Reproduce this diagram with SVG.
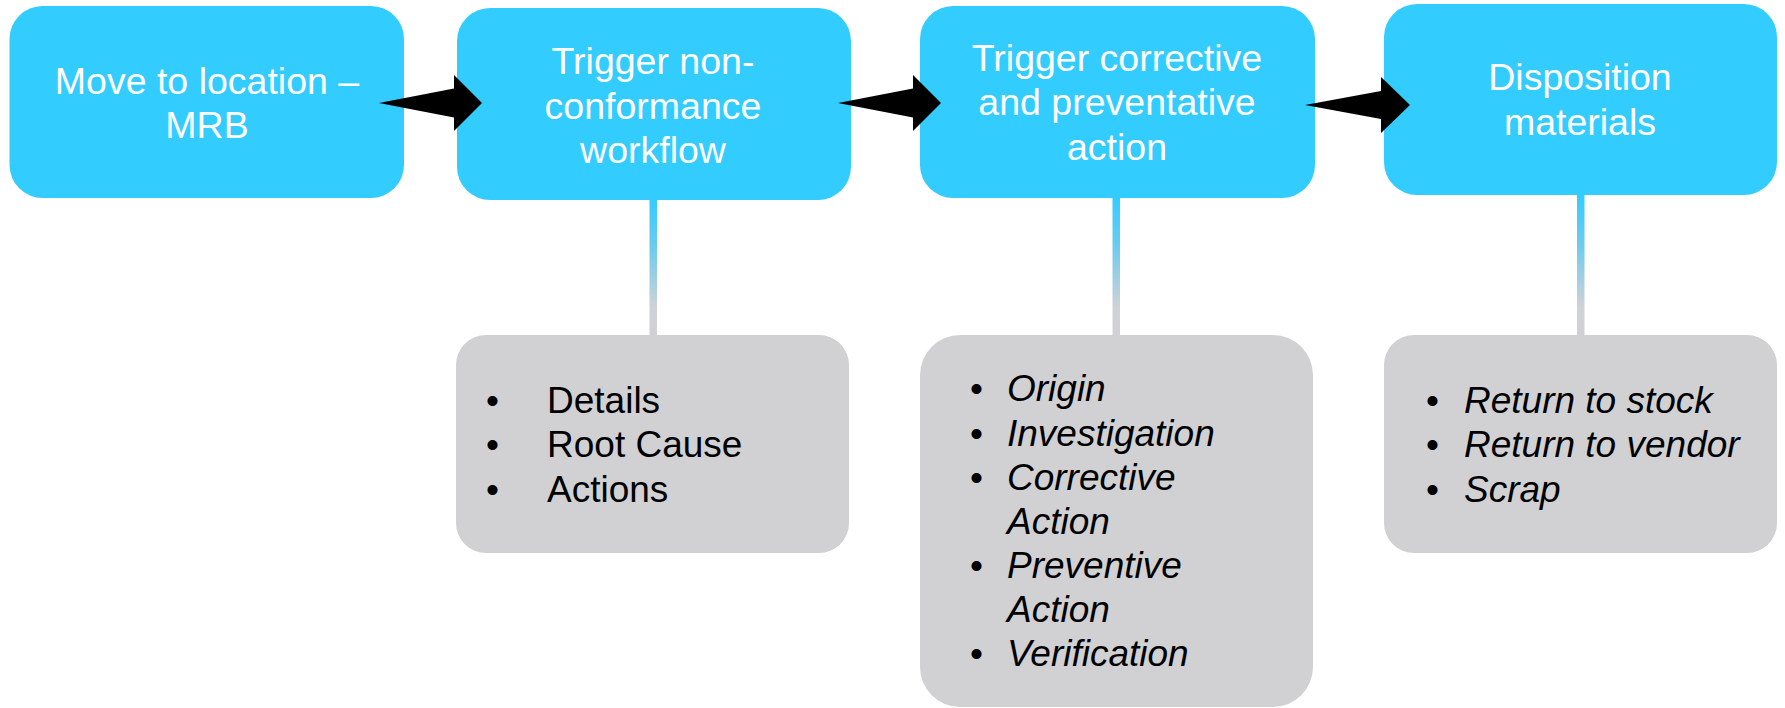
<svg xmlns="http://www.w3.org/2000/svg" width="1785" height="708" viewBox="0 0 1785 708">
<defs>
<linearGradient id="lg" x1="0" y1="0" x2="0" y2="1">
<stop offset="0" stop-color="#33CCFF"/>
<stop offset="0.35" stop-color="#6DCBEE"/>
<stop offset="0.8" stop-color="#CFD2D6"/>
<stop offset="1" stop-color="#D1D1D3"/>
</linearGradient>
<style>
.b{fill:#33CCFF}
.g{fill:#D1D1D3}
.bt{font-family:"Liberation Sans",Arial,sans-serif;font-size:37.5px;fill:#FFFFFF;text-anchor:middle}
.gt{font-family:"Liberation Sans",Arial,sans-serif;font-size:37px;fill:#000000}
.it{font-style:italic}
.arr{fill:#000000}
.ln{fill:url(#lg)}
</style>
</defs>
<rect width="1785" height="708" fill="#FFFFFF"/>
<g id="n1">
<rect class="b" x="9.5" y="6" width="394.5" height="192" rx="33" ry="33"/>
<text class="bt" x="207" y="94">Move to location –</text>
<text class="bt" x="207" y="138">MRB</text>
</g>
<g id="n2">
<rect class="b" x="457" y="8" width="394" height="192" rx="33" ry="33"/>
<text class="bt" x="653" y="74">Trigger non-</text>
<text class="bt" x="653" y="119">conformance</text>
<text class="bt" x="653" y="163">workflow</text>
</g>
<g id="n3">
<rect class="b" x="920" y="6" width="395" height="192" rx="33" ry="33"/>
<text class="bt" x="1117" y="71">Trigger corrective</text>
<text class="bt" x="1117" y="115">and preventative</text>
<text class="bt" x="1117" y="160">action</text>
</g>
<g id="n4">
<rect class="b" x="1384" y="4" width="393" height="191" rx="33" ry="33"/>
<text class="bt" x="1580" y="90">Disposition</text>
<text class="bt" x="1580" y="135">materials</text>
</g>
<g id="d1">
<rect class="g" x="456" y="335" width="393" height="218" rx="30" ry="30"/>
<text class="gt" x="486" y="413">•</text>
<text class="gt" x="547" y="413">Details</text>
<text class="gt" x="486" y="457">•</text>
<text class="gt" x="547" y="457">Root Cause</text>
<text class="gt" x="486" y="502">•</text>
<text class="gt" x="547" y="502">Actions</text>
</g>
<g id="d2">
<rect class="g" x="920" y="335" width="393" height="372" rx="40" ry="40"/>
<text class="gt" x="970" y="401">•</text>
<text class="gt it" x="1007" y="401">Origin</text>
<text class="gt" x="970" y="446">•</text>
<text class="gt it" x="1007" y="446">Investigation</text>
<text class="gt" x="970" y="490">•</text>
<text class="gt it" x="1007" y="490">Corrective</text>
<text class="gt it" x="1007" y="534">Action</text>
<text class="gt" x="970" y="578">•</text>
<text class="gt it" x="1007" y="578">Preventive</text>
<text class="gt it" x="1007" y="622">Action</text>
<text class="gt" x="970" y="666">•</text>
<text class="gt it" x="1007" y="666">Verification</text>
</g>
<g id="d3">
<rect class="g" x="1384" y="335" width="393" height="218" rx="30" ry="30"/>
<text class="gt" x="1426" y="413">•</text>
<text class="gt it" x="1464" y="413">Return to stock</text>
<text class="gt" x="1426" y="457">•</text>
<text class="gt it" x="1464" y="457">Return to vendor</text>
<text class="gt" x="1426" y="502">•</text>
<text class="gt it" x="1464" y="502">Scrap</text>
</g>
<g id="connectors">
<polygon class="arr" points="379,103 454,88.5 454,75 482,103 454,131 454,117.5"/>
<polygon class="arr" points="838,103 913,88.5 913,75 941,103 913,131 913,117.5"/>
<polygon class="arr" points="1305,105 1381,91 1381,77 1410,105 1381,133 1381,119"/>
<rect class="ln" x="649.5" y="200" width="7.5" height="135"/>
<rect class="ln" x="1112.5" y="198" width="7.5" height="137"/>
<rect class="ln" x="1577" y="195" width="7.5" height="140"/>
</g>
</svg>
